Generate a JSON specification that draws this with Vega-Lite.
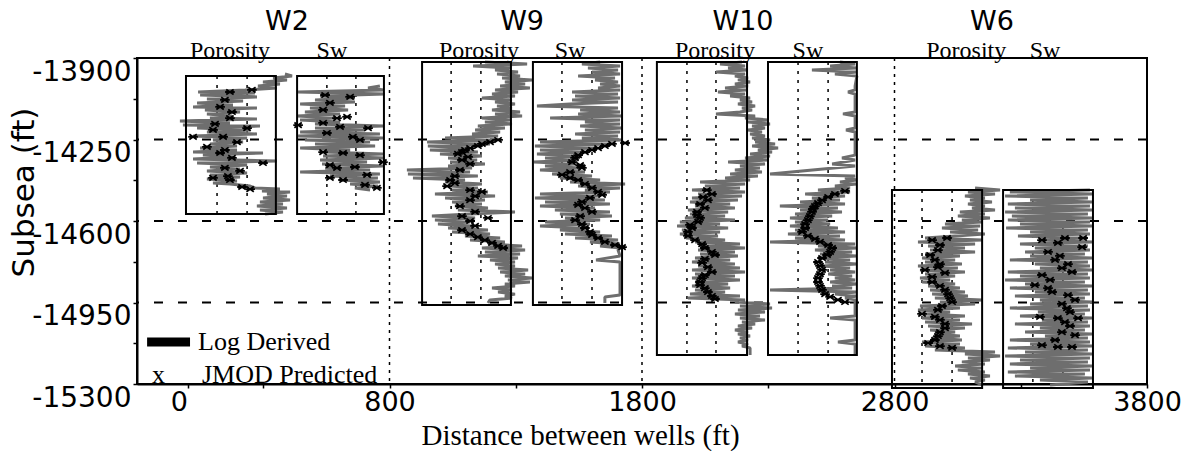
{
"$schema": "https://vega.github.io/schema/vega-lite/v6.json",
"width": 1010, "height": 326,
"autosize": {"type": "none"},
"padding": {"left": 137, "top": 58, "right": 49, "bottom": 67},
"background": "white",
"config": {
 "view": {"stroke": "black", "strokeWidth": 2},
 "axis": {"labelColor": "black", "tickColor": "black", "domainColor": "black", "titleColor": "black", "domainWidth": 2, "tickWidth": 1.5, "tickSize": 4, "grid": false, "labelFont": "DejaVu Sans", "labelFontSize": 28, "titleFontWeight": "normal"}
},
"datasets": {
 "hgrid": [{"d": -14250}, {"d": -14600}, {"d": -14950}],
 "vgrid": [{"x": 800}, {"x": 1800}, {"x": 2800}],
 "boxes": [
  {"t": "W2P", "x1": -6, "x2": 350, "top": -13977, "bot": -14570},
  {"t": "W2S", "x1": 434, "x2": 778, "top": -13977, "bot": -14570},
  {"t": "W9P", "x1": 929, "x2": 1281, "top": -13917, "bot": -14961},
  {"t": "W9S", "x1": 1368, "x2": 1721, "top": -13917, "bot": -14961},
  {"t": "W10P", "x1": 1859, "x2": 2216, "top": -13917, "bot": -15175},
  {"t": "W10S", "x1": 2299, "x2": 2651, "top": -13917, "bot": -15175},
  {"t": "W6P", "x1": 2790, "x2": 3147, "top": -14467, "bot": -15317},
  {"t": "W6S", "x1": 3230, "x2": 3586, "top": -14467, "bot": -15317}
 ],
 "inner": [
  {"x": 117, "top": -13977, "bot": -14570}, {"x": 236, "top": -13977, "bot": -14570},
  {"x": 552, "top": -13977, "bot": -14570}, {"x": 667, "top": -13977, "bot": -14570},
  {"x": 1044, "top": -13917, "bot": -14961}, {"x": 1162, "top": -13917, "bot": -14961},
  {"x": 1483, "top": -13917, "bot": -14961}, {"x": 1602, "top": -13917, "bot": -14961},
  {"x": 1978, "top": -13917, "bot": -15175}, {"x": 2093, "top": -13917, "bot": -15175},
  {"x": 2418, "top": -13917, "bot": -15175}, {"x": 2537, "top": -13917, "bot": -15175},
  {"x": 2909, "top": -14467, "bot": -15317}, {"x": 3028, "top": -14467, "bot": -15317},
  {"x": 3348, "top": -14467, "bot": -15317}, {"x": 3467, "top": -14467, "bot": -15317}
 ],
 "titles": [
  {"x": 394, "d": -13780, "txt": "W2"}, {"x": 1325, "d": -13780, "txt": "W9"},
  {"x": 2200, "d": -13780, "txt": "W10"}, {"x": 3186, "d": -13780, "txt": "W6"}
 ],
 "sublabels": [
  {"x": 168, "d": -13900, "txt": "Porosity"}, {"x": 572, "d": -13900, "txt": "Sw"},
  {"x": 1154, "d": -13900, "txt": "Porosity"}, {"x": 1515, "d": -13900, "txt": "Sw"},
  {"x": 2089, "d": -13900, "txt": "Porosity"}, {"x": 2457, "d": -13900, "txt": "Sw"},
  {"x": 3084, "d": -13900, "txt": "Porosity"}, {"x": 3396, "d": -13900, "txt": "Sw"}
 ],
 "legline": [{"x": -160, "x2": 10, "d": -15120}],
 "legtext": [
  {"x": 42, "d": -15154, "txt": "Log Derived"},
  {"x": -141, "d": -15296, "txt": "x"},
  {"x": 57, "d": -15296, "txt": "JMOD Predicted"}
 ],
 "logs": [
  {"t":"W2P","d":-13969,"x":386},{"t":"W2P","d":-13977,"x":414},{"t":"W2P","d":-13986,"x":339},{"t":"W2P","d":-13994,"x":394},{"t":"W2P","d":-14003,"x":299},{"t":"W2P","d":-14012,"x":366},{"t":"W2P","d":-14020,"x":279},{"t":"W2P","d":-14029,"x":354},{"t":"W2P","d":-14037,"x":228},{"t":"W2P","d":-14046,"x":42},{"t":"W2P","d":-14050,"x":267},{"t":"W2P","d":-14059,"x":50},{"t":"W2P","d":-14067,"x":275},{"t":"W2P","d":-14076,"x":77},{"t":"W2P","d":-14085,"x":220},{"t":"W2P","d":-14093,"x":38},{"t":"W2P","d":-14102,"x":180},{"t":"W2P","d":-14110,"x":22},{"t":"W2P","d":-14115,"x":275},{"t":"W2P","d":-14123,"x":69},{"t":"W2P","d":-14132,"x":208},{"t":"W2P","d":-14140,"x":77},{"t":"W2P","d":-14149,"x":176},{"t":"W2P","d":-14158,"x":89},{"t":"W2P","d":-14162,"x":275},{"t":"W2P","d":-14171,"x":-30},{"t":"W2P","d":-14179,"x":168},{"t":"W2P","d":-14188,"x":-18},{"t":"W2P","d":-14192,"x":287},{"t":"W2P","d":-14201,"x":38},{"t":"W2P","d":-14209,"x":248},{"t":"W2P","d":-14218,"x":77},{"t":"W2P","d":-14226,"x":275},{"t":"W2P","d":-14235,"x":22},{"t":"W2P","d":-14244,"x":236},{"t":"W2P","d":-14252,"x":101},{"t":"W2P","d":-14261,"x":220},{"t":"W2P","d":-14269,"x":89},{"t":"W2P","d":-14278,"x":196},{"t":"W2P","d":-14287,"x":50},{"t":"W2P","d":-14295,"x":196},{"t":"W2P","d":-14304,"x":22},{"t":"W2P","d":-14308,"x":299},{"t":"W2P","d":-14317,"x":61},{"t":"W2P","d":-14325,"x":180},{"t":"W2P","d":-14334,"x":22},{"t":"W2P","d":-14342,"x":354},{"t":"W2P","d":-14351,"x":38},{"t":"W2P","d":-14360,"x":236},{"t":"W2P","d":-14368,"x":89},{"t":"W2P","d":-14377,"x":208},{"t":"W2P","d":-14385,"x":77},{"t":"W2P","d":-14394,"x":236},{"t":"W2P","d":-14402,"x":89},{"t":"W2P","d":-14411,"x":208},{"t":"W2P","d":-14420,"x":77},{"t":"W2P","d":-14428,"x":196},{"t":"W2P","d":-14437,"x":101},{"t":"W2P","d":-14441,"x":168},{"t":"W2P","d":-14450,"x":248},{"t":"W2P","d":-14458,"x":267},{"t":"W2P","d":-14463,"x":366},{"t":"W2P","d":-14471,"x":295},{"t":"W2P","d":-14475,"x":406},{"t":"W2P","d":-14484,"x":315},{"t":"W2P","d":-14493,"x":394},{"t":"W2P","d":-14501,"x":299},{"t":"W2P","d":-14510,"x":406},{"t":"W2P","d":-14518,"x":287},{"t":"W2P","d":-14527,"x":378},{"t":"W2P","d":-14536,"x":275},{"t":"W2P","d":-14544,"x":394},{"t":"W2P","d":-14553,"x":287},{"t":"W2P","d":-14561,"x":378},{"t":"W2P","d":-14570,"x":307},
  {"t":"W2S","d":-14020,"x":762},{"t":"W2S","d":-14029,"x":715},{"t":"W2S","d":-14037,"x":778},{"t":"W2S","d":-14046,"x":438},{"t":"W2S","d":-14055,"x":782},{"t":"W2S","d":-14063,"x":525},{"t":"W2S","d":-14072,"x":663},{"t":"W2S","d":-14080,"x":505},{"t":"W2S","d":-14089,"x":663},{"t":"W2S","d":-14098,"x":446},{"t":"W2S","d":-14106,"x":624},{"t":"W2S","d":-14115,"x":485},{"t":"W2S","d":-14123,"x":636},{"t":"W2S","d":-14132,"x":465},{"t":"W2S","d":-14140,"x":604},{"t":"W2S","d":-14149,"x":434},{"t":"W2S","d":-14158,"x":584},{"t":"W2S","d":-14166,"x":446},{"t":"W2S","d":-14175,"x":604},{"t":"W2S","d":-14183,"x":505},{"t":"W2S","d":-14192,"x":778},{"t":"W2S","d":-14201,"x":505},{"t":"W2S","d":-14209,"x":703},{"t":"W2S","d":-14218,"x":446},{"t":"W2S","d":-14226,"x":762},{"t":"W2S","d":-14235,"x":438},{"t":"W2S","d":-14244,"x":774},{"t":"W2S","d":-14252,"x":465},{"t":"W2S","d":-14261,"x":723},{"t":"W2S","d":-14269,"x":505},{"t":"W2S","d":-14278,"x":743},{"t":"W2S","d":-14287,"x":446},{"t":"W2S","d":-14295,"x":644},{"t":"W2S","d":-14304,"x":545},{"t":"W2S","d":-14312,"x":774},{"t":"W2S","d":-14321,"x":537},{"t":"W2S","d":-14329,"x":782},{"t":"W2S","d":-14338,"x":525},{"t":"W2S","d":-14347,"x":711},{"t":"W2S","d":-14355,"x":533},{"t":"W2S","d":-14364,"x":774},{"t":"W2S","d":-14372,"x":545},{"t":"W2S","d":-14381,"x":723},{"t":"W2S","d":-14390,"x":446},{"t":"W2S","d":-14398,"x":762},{"t":"W2S","d":-14407,"x":564},{"t":"W2S","d":-14415,"x":754},{"t":"W2S","d":-14424,"x":604},{"t":"W2S","d":-14433,"x":762},{"t":"W2S","d":-14441,"x":644},{"t":"W2S","d":-14450,"x":754},{"t":"W2S","d":-14458,"x":663},{"t":"W2S","d":-14467,"x":723},
  {"t":"W9P","d":-13917,"x":1178},{"t":"W9P","d":-13926,"x":1345},{"t":"W9P","d":-13934,"x":1131},{"t":"W9P","d":-13943,"x":1281},{"t":"W9P","d":-13952,"x":1218},{"t":"W9P","d":-13960,"x":1309},{"t":"W9P","d":-13969,"x":1226},{"t":"W9P","d":-13977,"x":1317},{"t":"W9P","d":-13986,"x":1246},{"t":"W9P","d":-13994,"x":1364},{"t":"W9P","d":-14003,"x":1257},{"t":"W9P","d":-14012,"x":1337},{"t":"W9P","d":-14020,"x":1238},{"t":"W9P","d":-14029,"x":1356},{"t":"W9P","d":-14037,"x":1218},{"t":"W9P","d":-14046,"x":1309},{"t":"W9P","d":-14055,"x":1206},{"t":"W9P","d":-14063,"x":1297},{"t":"W9P","d":-14072,"x":1166},{"t":"W9P","d":-14080,"x":1285},{"t":"W9P","d":-14089,"x":1218},{"t":"W9P","d":-14098,"x":1297},{"t":"W9P","d":-14106,"x":1226},{"t":"W9P","d":-14115,"x":1285},{"t":"W9P","d":-14123,"x":1206},{"t":"W9P","d":-14132,"x":1317},{"t":"W9P","d":-14140,"x":1218},{"t":"W9P","d":-14149,"x":1325},{"t":"W9P","d":-14158,"x":1166},{"t":"W9P","d":-14166,"x":1277},{"t":"W9P","d":-14175,"x":1178},{"t":"W9P","d":-14183,"x":1285},{"t":"W9P","d":-14192,"x":1150},{"t":"W9P","d":-14201,"x":1257},{"t":"W9P","d":-14209,"x":1139},{"t":"W9P","d":-14218,"x":1238},{"t":"W9P","d":-14226,"x":1127},{"t":"W9P","d":-14235,"x":1230},{"t":"W9P","d":-14244,"x":1020},{"t":"W9P","d":-14252,"x":1218},{"t":"W9P","d":-14261,"x":949},{"t":"W9P","d":-14269,"x":1198},{"t":"W9P","d":-14278,"x":952},{"t":"W9P","d":-14287,"x":1119},{"t":"W9P","d":-14295,"x":960},{"t":"W9P","d":-14304,"x":1150},{"t":"W9P","d":-14312,"x":1000},{"t":"W9P","d":-14321,"x":1166},{"t":"W9P","d":-14329,"x":1032},{"t":"W9P","d":-14338,"x":1147},{"t":"W9P","d":-14347,"x":1040},{"t":"W9P","d":-14355,"x":1178},{"t":"W9P","d":-14364,"x":1032},{"t":"W9P","d":-14372,"x":1127},{"t":"W9P","d":-14381,"x":869},{"t":"W9P","d":-14390,"x":1119},{"t":"W9P","d":-14398,"x":873},{"t":"W9P","d":-14407,"x":1150},{"t":"W9P","d":-14415,"x":893},{"t":"W9P","d":-14424,"x":1099},{"t":"W9P","d":-14433,"x":1020},{"t":"W9P","d":-14441,"x":1166},{"t":"W9P","d":-14450,"x":1040},{"t":"W9P","d":-14458,"x":1150},{"t":"W9P","d":-14467,"x":1048},{"t":"W9P","d":-14475,"x":1190},{"t":"W9P","d":-14484,"x":980},{"t":"W9P","d":-14493,"x":1218},{"t":"W9P","d":-14501,"x":1020},{"t":"W9P","d":-14510,"x":1178},{"t":"W9P","d":-14518,"x":1048},{"t":"W9P","d":-14527,"x":1166},{"t":"W9P","d":-14536,"x":1059},{"t":"W9P","d":-14544,"x":1190},{"t":"W9P","d":-14553,"x":1071},{"t":"W9P","d":-14561,"x":1297},{"t":"W9P","d":-14570,"x":1119},{"t":"W9P","d":-14579,"x":968},{"t":"W9P","d":-14587,"x":1139},{"t":"W9P","d":-14596,"x":980},{"t":"W9P","d":-14604,"x":1119},{"t":"W9P","d":-14613,"x":992},{"t":"W9P","d":-14621,"x":1127},{"t":"W9P","d":-14630,"x":1032},{"t":"W9P","d":-14639,"x":1190},{"t":"W9P","d":-14647,"x":1048},{"t":"W9P","d":-14656,"x":1198},{"t":"W9P","d":-14664,"x":1099},{"t":"W9P","d":-14673,"x":1238},{"t":"W9P","d":-14682,"x":1119},{"t":"W9P","d":-14690,"x":1257},{"t":"W9P","d":-14699,"x":1190},{"t":"W9P","d":-14707,"x":1325},{"t":"W9P","d":-14716,"x":1166},{"t":"W9P","d":-14725,"x":1337},{"t":"W9P","d":-14733,"x":1178},{"t":"W9P","d":-14742,"x":1317},{"t":"W9P","d":-14750,"x":1150},{"t":"W9P","d":-14759,"x":1309},{"t":"W9P","d":-14767,"x":1198},{"t":"W9P","d":-14776,"x":1297},{"t":"W9P","d":-14785,"x":1218},{"t":"W9P","d":-14793,"x":1297},{"t":"W9P","d":-14802,"x":1230},{"t":"W9P","d":-14810,"x":1349},{"t":"W9P","d":-14819,"x":1238},{"t":"W9P","d":-14828,"x":1337},{"t":"W9P","d":-14836,"x":1257},{"t":"W9P","d":-14845,"x":1364},{"t":"W9P","d":-14853,"x":1269},{"t":"W9P","d":-14862,"x":1356},{"t":"W9P","d":-14871,"x":1257},{"t":"W9P","d":-14879,"x":1297},{"t":"W9P","d":-14888,"x":1206},{"t":"W9P","d":-14896,"x":1285},{"t":"W9P","d":-14905,"x":1230},{"t":"W9P","d":-14914,"x":1297},{"t":"W9P","d":-14922,"x":1257},{"t":"W9P","d":-14931,"x":1285},{"t":"W9P","d":-14939,"x":1198},{"t":"W9P","d":-14952,"x":1190},
  {"t":"W9S","d":-13917,"x":1634},{"t":"W9S","d":-13926,"x":1562},{"t":"W9S","d":-13934,"x":1713},{"t":"W9S","d":-13943,"x":1586},{"t":"W9S","d":-13952,"x":1705},{"t":"W9S","d":-13960,"x":1602},{"t":"W9S","d":-13969,"x":1713},{"t":"W9S","d":-13977,"x":1547},{"t":"W9S","d":-13986,"x":1693},{"t":"W9S","d":-13994,"x":1614},{"t":"W9S","d":-14003,"x":1705},{"t":"W9S","d":-14012,"x":1634},{"t":"W9S","d":-14020,"x":1713},{"t":"W9S","d":-14029,"x":1626},{"t":"W9S","d":-14037,"x":1713},{"t":"W9S","d":-14046,"x":1523},{"t":"W9S","d":-14055,"x":1705},{"t":"W9S","d":-14063,"x":1535},{"t":"W9S","d":-14072,"x":1713},{"t":"W9S","d":-14080,"x":1523},{"t":"W9S","d":-14089,"x":1705},{"t":"W9S","d":-14098,"x":1515},{"t":"W9S","d":-14106,"x":1384},{"t":"W9S","d":-14115,"x":1705},{"t":"W9S","d":-14123,"x":1555},{"t":"W9S","d":-14132,"x":1713},{"t":"W9S","d":-14140,"x":1547},{"t":"W9S","d":-14149,"x":1721},{"t":"W9S","d":-14158,"x":1436},{"t":"W9S","d":-14166,"x":1713},{"t":"W9S","d":-14175,"x":1574},{"t":"W9S","d":-14183,"x":1713},{"t":"W9S","d":-14192,"x":1555},{"t":"W9S","d":-14201,"x":1721},{"t":"W9S","d":-14209,"x":1574},{"t":"W9S","d":-14218,"x":1713},{"t":"W9S","d":-14226,"x":1535},{"t":"W9S","d":-14235,"x":1705},{"t":"W9S","d":-14244,"x":1562},{"t":"W9S","d":-14252,"x":1721},{"t":"W9S","d":-14261,"x":1396},{"t":"W9S","d":-14269,"x":1673},{"t":"W9S","d":-14278,"x":1376},{"t":"W9S","d":-14287,"x":1614},{"t":"W9S","d":-14295,"x":1396},{"t":"W9S","d":-14304,"x":1574},{"t":"W9S","d":-14312,"x":1384},{"t":"W9S","d":-14321,"x":1555},{"t":"W9S","d":-14329,"x":1416},{"t":"W9S","d":-14338,"x":1547},{"t":"W9S","d":-14347,"x":1372},{"t":"W9S","d":-14355,"x":1535},{"t":"W9S","d":-14364,"x":1416},{"t":"W9S","d":-14372,"x":1555},{"t":"W9S","d":-14381,"x":1396},{"t":"W9S","d":-14390,"x":1574},{"t":"W9S","d":-14398,"x":1444},{"t":"W9S","d":-14407,"x":1602},{"t":"W9S","d":-14415,"x":1475},{"t":"W9S","d":-14424,"x":1634},{"t":"W9S","d":-14433,"x":1515},{"t":"W9S","d":-14441,"x":1733},{"t":"W9S","d":-14450,"x":1547},{"t":"W9S","d":-14458,"x":1713},{"t":"W9S","d":-14467,"x":1574},{"t":"W9S","d":-14475,"x":1673},{"t":"W9S","d":-14484,"x":1396},{"t":"W9S","d":-14493,"x":1634},{"t":"W9S","d":-14501,"x":1376},{"t":"W9S","d":-14510,"x":1653},{"t":"W9S","d":-14518,"x":1416},{"t":"W9S","d":-14527,"x":1673},{"t":"W9S","d":-14536,"x":1396},{"t":"W9S","d":-14544,"x":1614},{"t":"W9S","d":-14553,"x":1455},{"t":"W9S","d":-14561,"x":1673},{"t":"W9S","d":-14570,"x":1475},{"t":"W9S","d":-14579,"x":1681},{"t":"W9S","d":-14587,"x":1495},{"t":"W9S","d":-14596,"x":1634},{"t":"W9S","d":-14604,"x":1416},{"t":"W9S","d":-14613,"x":1594},{"t":"W9S","d":-14621,"x":1396},{"t":"W9S","d":-14630,"x":1574},{"t":"W9S","d":-14639,"x":1475},{"t":"W9S","d":-14647,"x":1634},{"t":"W9S","d":-14656,"x":1495},{"t":"W9S","d":-14664,"x":1681},{"t":"W9S","d":-14673,"x":1535},{"t":"W9S","d":-14682,"x":1705},{"t":"W9S","d":-14690,"x":1594},{"t":"W9S","d":-14699,"x":1713},{"t":"W9S","d":-14707,"x":1634},{"t":"W9S","d":-14716,"x":1713},{"t":"W9S","d":-14725,"x":1705},{"t":"W9S","d":-14750,"x":1713},{"t":"W9S","d":-14767,"x":1618},{"t":"W9S","d":-14776,"x":1713},{"t":"W9S","d":-14918,"x":1713},{"t":"W9S","d":-14926,"x":1653},{"t":"W9S","d":-14952,"x":1653},
  {"t":"W10P","d":-13917,"x":2196},{"t":"W10P","d":-13926,"x":2109},{"t":"W10P","d":-13934,"x":2208},{"t":"W10P","d":-13943,"x":2141},{"t":"W10P","d":-13952,"x":2216},{"t":"W10P","d":-13960,"x":2093},{"t":"W10P","d":-13969,"x":2208},{"t":"W10P","d":-13977,"x":2168},{"t":"W10P","d":-13986,"x":2220},{"t":"W10P","d":-13994,"x":2180},{"t":"W10P","d":-14003,"x":2228},{"t":"W10P","d":-14012,"x":2168},{"t":"W10P","d":-14020,"x":2220},{"t":"W10P","d":-14029,"x":2129},{"t":"W10P","d":-14037,"x":2212},{"t":"W10P","d":-14046,"x":2101},{"t":"W10P","d":-14055,"x":2208},{"t":"W10P","d":-14063,"x":2149},{"t":"W10P","d":-14072,"x":2228},{"t":"W10P","d":-14080,"x":2188},{"t":"W10P","d":-14089,"x":2236},{"t":"W10P","d":-14098,"x":2180},{"t":"W10P","d":-14106,"x":2248},{"t":"W10P","d":-14115,"x":2196},{"t":"W10P","d":-14123,"x":2236},{"t":"W10P","d":-14132,"x":2188},{"t":"W10P","d":-14140,"x":2093},{"t":"W10P","d":-14149,"x":2248},{"t":"W10P","d":-14158,"x":2208},{"t":"W10P","d":-14166,"x":2299},{"t":"W10P","d":-14175,"x":2220},{"t":"W10P","d":-14183,"x":2307},{"t":"W10P","d":-14192,"x":2236},{"t":"W10P","d":-14201,"x":2287},{"t":"W10P","d":-14209,"x":2220},{"t":"W10P","d":-14218,"x":2275},{"t":"W10P","d":-14226,"x":2228},{"t":"W10P","d":-14235,"x":2287},{"t":"W10P","d":-14244,"x":2236},{"t":"W10P","d":-14252,"x":2307},{"t":"W10P","d":-14261,"x":2248},{"t":"W10P","d":-14269,"x":2327},{"t":"W10P","d":-14278,"x":2236},{"t":"W10P","d":-14287,"x":2339},{"t":"W10P","d":-14295,"x":2259},{"t":"W10P","d":-14304,"x":2315},{"t":"W10P","d":-14312,"x":2228},{"t":"W10P","d":-14321,"x":2307},{"t":"W10P","d":-14329,"x":2208},{"t":"W10P","d":-14338,"x":2299},{"t":"W10P","d":-14347,"x":2141},{"t":"W10P","d":-14355,"x":2287},{"t":"W10P","d":-14364,"x":2188},{"t":"W10P","d":-14372,"x":2267},{"t":"W10P","d":-14381,"x":2168},{"t":"W10P","d":-14390,"x":2275},{"t":"W10P","d":-14398,"x":2149},{"t":"W10P","d":-14407,"x":2259},{"t":"W10P","d":-14415,"x":2129},{"t":"W10P","d":-14424,"x":2228},{"t":"W10P","d":-14433,"x":2030},{"t":"W10P","d":-14441,"x":2208},{"t":"W10P","d":-14450,"x":2049},{"t":"W10P","d":-14458,"x":2188},{"t":"W10P","d":-14467,"x":1998},{"t":"W10P","d":-14475,"x":2208},{"t":"W10P","d":-14484,"x":2022},{"t":"W10P","d":-14493,"x":2196},{"t":"W10P","d":-14501,"x":1998},{"t":"W10P","d":-14510,"x":2180},{"t":"W10P","d":-14518,"x":1990},{"t":"W10P","d":-14527,"x":2149},{"t":"W10P","d":-14536,"x":2010},{"t":"W10P","d":-14544,"x":2168},{"t":"W10P","d":-14553,"x":1982},{"t":"W10P","d":-14561,"x":2141},{"t":"W10P","d":-14570,"x":1990},{"t":"W10P","d":-14579,"x":2129},{"t":"W10P","d":-14587,"x":1970},{"t":"W10P","d":-14596,"x":2168},{"t":"W10P","d":-14604,"x":1950},{"t":"W10P","d":-14613,"x":2109},{"t":"W10P","d":-14621,"x":1939},{"t":"W10P","d":-14630,"x":2141},{"t":"W10P","d":-14639,"x":1958},{"t":"W10P","d":-14647,"x":2109},{"t":"W10P","d":-14656,"x":1950},{"t":"W10P","d":-14664,"x":2101},{"t":"W10P","d":-14673,"x":1974},{"t":"W10P","d":-14682,"x":2129},{"t":"W10P","d":-14690,"x":2010},{"t":"W10P","d":-14699,"x":2188},{"t":"W10P","d":-14707,"x":2030},{"t":"W10P","d":-14716,"x":2208},{"t":"W10P","d":-14725,"x":2022},{"t":"W10P","d":-14733,"x":2168},{"t":"W10P","d":-14742,"x":2030},{"t":"W10P","d":-14750,"x":2180},{"t":"W10P","d":-14759,"x":2010},{"t":"W10P","d":-14767,"x":2149},{"t":"W10P","d":-14776,"x":1998},{"t":"W10P","d":-14785,"x":2168},{"t":"W10P","d":-14793,"x":2022},{"t":"W10P","d":-14802,"x":2188},{"t":"W10P","d":-14810,"x":1998},{"t":"W10P","d":-14819,"x":2208},{"t":"W10P","d":-14828,"x":2010},{"t":"W10P","d":-14836,"x":2168},{"t":"W10P","d":-14845,"x":1998},{"t":"W10P","d":-14853,"x":2188},{"t":"W10P","d":-14862,"x":2010},{"t":"W10P","d":-14871,"x":2141},{"t":"W10P","d":-14879,"x":1998},{"t":"W10P","d":-14888,"x":2149},{"t":"W10P","d":-14896,"x":2010},{"t":"W10P","d":-14905,"x":2129},{"t":"W10P","d":-14914,"x":1990},{"t":"W10P","d":-14922,"x":2188},{"t":"W10P","d":-14931,"x":1982},{"t":"W10P","d":-14939,"x":2208},{"t":"W10P","d":-14948,"x":2168},{"t":"W10P","d":-14956,"x":2307},{"t":"W10P","d":-14965,"x":2188},{"t":"W10P","d":-14974,"x":2315},{"t":"W10P","d":-14982,"x":2180},{"t":"W10P","d":-14991,"x":2287},{"t":"W10P","d":-14999,"x":2168},{"t":"W10P","d":-15008,"x":2267},{"t":"W10P","d":-15017,"x":2188},{"t":"W10P","d":-15025,"x":2287},{"t":"W10P","d":-15034,"x":2196},{"t":"W10P","d":-15042,"x":2248},{"t":"W10P","d":-15051,"x":2180},{"t":"W10P","d":-15060,"x":2236},{"t":"W10P","d":-15068,"x":2168},{"t":"W10P","d":-15077,"x":2220},{"t":"W10P","d":-15085,"x":2180},{"t":"W10P","d":-15094,"x":2228},{"t":"W10P","d":-15102,"x":2188},{"t":"W10P","d":-15111,"x":2220},{"t":"W10P","d":-15120,"x":2180},{"t":"W10P","d":-15128,"x":2220},{"t":"W10P","d":-15137,"x":2196},{"t":"W10P","d":-15145,"x":2228},{"t":"W10P","d":-15175,"x":2228},
  {"t":"W10S","d":-13917,"x":2584},{"t":"W10S","d":-13926,"x":2644},{"t":"W10S","d":-13934,"x":2545},{"t":"W10S","d":-13943,"x":2651},{"t":"W10S","d":-13952,"x":2473},{"t":"W10S","d":-13960,"x":2651},{"t":"W10S","d":-13969,"x":2564},{"t":"W10S","d":-13977,"x":2651},{"t":"W10S","d":-14020,"x":2644},{"t":"W10S","d":-14037,"x":2644},{"t":"W10S","d":-14046,"x":2616},{"t":"W10S","d":-14055,"x":2644},{"t":"W10S","d":-14132,"x":2644},{"t":"W10S","d":-14140,"x":2596},{"t":"W10S","d":-14149,"x":2644},{"t":"W10S","d":-14201,"x":2644},{"t":"W10S","d":-14209,"x":2608},{"t":"W10S","d":-14218,"x":2644},{"t":"W10S","d":-14317,"x":2644},{"t":"W10S","d":-14329,"x":2592},{"t":"W10S","d":-14338,"x":2644},{"t":"W10S","d":-14355,"x":2553},{"t":"W10S","d":-14364,"x":2644},{"t":"W10S","d":-14398,"x":2307},{"t":"W10S","d":-14407,"x":2644},{"t":"W10S","d":-14415,"x":2604},{"t":"W10S","d":-14424,"x":2651},{"t":"W10S","d":-14433,"x":2584},{"t":"W10S","d":-14441,"x":2651},{"t":"W10S","d":-14450,"x":2564},{"t":"W10S","d":-14458,"x":2624},{"t":"W10S","d":-14467,"x":2497},{"t":"W10S","d":-14475,"x":2624},{"t":"W10S","d":-14484,"x":2446},{"t":"W10S","d":-14493,"x":2604},{"t":"W10S","d":-14501,"x":2473},{"t":"W10S","d":-14510,"x":2584},{"t":"W10S","d":-14518,"x":2426},{"t":"W10S","d":-14527,"x":2604},{"t":"W10S","d":-14536,"x":2346},{"t":"W10S","d":-14544,"x":2576},{"t":"W10S","d":-14553,"x":2426},{"t":"W10S","d":-14561,"x":2592},{"t":"W10S","d":-14570,"x":2406},{"t":"W10S","d":-14579,"x":2553},{"t":"W10S","d":-14587,"x":2386},{"t":"W10S","d":-14596,"x":2537},{"t":"W10S","d":-14604,"x":2406},{"t":"W10S","d":-14613,"x":2545},{"t":"W10S","d":-14621,"x":2386},{"t":"W10S","d":-14630,"x":2576},{"t":"W10S","d":-14639,"x":2406},{"t":"W10S","d":-14647,"x":2604},{"t":"W10S","d":-14656,"x":2378},{"t":"W10S","d":-14664,"x":2584},{"t":"W10S","d":-14673,"x":2406},{"t":"W10S","d":-14682,"x":2604},{"t":"W10S","d":-14690,"x":2307},{"t":"W10S","d":-14699,"x":2644},{"t":"W10S","d":-14707,"x":2497},{"t":"W10S","d":-14716,"x":2651},{"t":"W10S","d":-14725,"x":2485},{"t":"W10S","d":-14733,"x":2632},{"t":"W10S","d":-14742,"x":2505},{"t":"W10S","d":-14750,"x":2651},{"t":"W10S","d":-14759,"x":2497},{"t":"W10S","d":-14767,"x":2624},{"t":"W10S","d":-14776,"x":2525},{"t":"W10S","d":-14785,"x":2651},{"t":"W10S","d":-14793,"x":2513},{"t":"W10S","d":-14802,"x":2624},{"t":"W10S","d":-14810,"x":2545},{"t":"W10S","d":-14819,"x":2644},{"t":"W10S","d":-14828,"x":2537},{"t":"W10S","d":-14836,"x":2632},{"t":"W10S","d":-14845,"x":2564},{"t":"W10S","d":-14853,"x":2644},{"t":"W10S","d":-14862,"x":2545},{"t":"W10S","d":-14871,"x":2651},{"t":"W10S","d":-14879,"x":2553},{"t":"W10S","d":-14888,"x":2632},{"t":"W10S","d":-14896,"x":2307},{"t":"W10S","d":-14905,"x":2651},{"t":"W10S","d":-14914,"x":2564},{"t":"W10S","d":-14922,"x":2651},{"t":"W10S","d":-14931,"x":2604},{"t":"W10S","d":-14939,"x":2651},{"t":"W10S","d":-14948,"x":2644},{"t":"W10S","d":-15008,"x":2644},{"t":"W10S","d":-15017,"x":2545},{"t":"W10S","d":-15025,"x":2644},{"t":"W10S","d":-15111,"x":2644},{"t":"W10S","d":-15120,"x":2576},{"t":"W10S","d":-15128,"x":2644},{"t":"W10S","d":-15175,"x":2644},
  {"t":"W6P","d":-14458,"x":3119},{"t":"W6P","d":-14467,"x":3218},{"t":"W6P","d":-14475,"x":3091},{"t":"W6P","d":-14484,"x":3198},{"t":"W6P","d":-14493,"x":3079},{"t":"W6P","d":-14501,"x":3158},{"t":"W6P","d":-14510,"x":3099},{"t":"W6P","d":-14518,"x":3186},{"t":"W6P","d":-14527,"x":3091},{"t":"W6P","d":-14536,"x":3158},{"t":"W6P","d":-14544,"x":3107},{"t":"W6P","d":-14553,"x":3198},{"t":"W6P","d":-14561,"x":3059},{"t":"W6P","d":-14570,"x":3158},{"t":"W6P","d":-14579,"x":3051},{"t":"W6P","d":-14587,"x":3178},{"t":"W6P","d":-14596,"x":3067},{"t":"W6P","d":-14604,"x":3147},{"t":"W6P","d":-14613,"x":3000},{"t":"W6P","d":-14621,"x":3139},{"t":"W6P","d":-14630,"x":2988},{"t":"W6P","d":-14639,"x":3131},{"t":"W6P","d":-14647,"x":3020},{"t":"W6P","d":-14656,"x":3158},{"t":"W6P","d":-14664,"x":3040},{"t":"W6P","d":-14673,"x":2921},{"t":"W6P","d":-14682,"x":3147},{"t":"W6P","d":-14690,"x":2893},{"t":"W6P","d":-14699,"x":3119},{"t":"W6P","d":-14707,"x":2933},{"t":"W6P","d":-14716,"x":3079},{"t":"W6P","d":-14725,"x":2941},{"t":"W6P","d":-14733,"x":3119},{"t":"W6P","d":-14742,"x":2921},{"t":"W6P","d":-14750,"x":3059},{"t":"W6P","d":-14759,"x":2909},{"t":"W6P","d":-14767,"x":3040},{"t":"W6P","d":-14776,"x":2921},{"t":"W6P","d":-14785,"x":3067},{"t":"W6P","d":-14793,"x":2893},{"t":"W6P","d":-14802,"x":3051},{"t":"W6P","d":-14810,"x":2901},{"t":"W6P","d":-14819,"x":3079},{"t":"W6P","d":-14828,"x":2921},{"t":"W6P","d":-14836,"x":3040},{"t":"W6P","d":-14845,"x":2901},{"t":"W6P","d":-14853,"x":3020},{"t":"W6P","d":-14862,"x":2909},{"t":"W6P","d":-14871,"x":3040},{"t":"W6P","d":-14879,"x":2933},{"t":"W6P","d":-14888,"x":3059},{"t":"W6P","d":-14896,"x":2941},{"t":"W6P","d":-14905,"x":3079},{"t":"W6P","d":-14914,"x":2949},{"t":"W6P","d":-14922,"x":3091},{"t":"W6P","d":-14931,"x":2960},{"t":"W6P","d":-14939,"x":3147},{"t":"W6P","d":-14948,"x":2980},{"t":"W6P","d":-14956,"x":3119},{"t":"W6P","d":-14965,"x":2901},{"t":"W6P","d":-14974,"x":3059},{"t":"W6P","d":-14982,"x":2893},{"t":"W6P","d":-14991,"x":3020},{"t":"W6P","d":-14999,"x":2921},{"t":"W6P","d":-15008,"x":3079},{"t":"W6P","d":-15017,"x":2909},{"t":"W6P","d":-15025,"x":3059},{"t":"W6P","d":-15034,"x":2921},{"t":"W6P","d":-15042,"x":3107},{"t":"W6P","d":-15051,"x":2933},{"t":"W6P","d":-15060,"x":3079},{"t":"W6P","d":-15068,"x":2941},{"t":"W6P","d":-15077,"x":3040},{"t":"W6P","d":-15085,"x":2960},{"t":"W6P","d":-15094,"x":3059},{"t":"W6P","d":-15102,"x":2949},{"t":"W6P","d":-15111,"x":3067},{"t":"W6P","d":-15120,"x":2909},{"t":"W6P","d":-15128,"x":3059},{"t":"W6P","d":-15137,"x":2921},{"t":"W6P","d":-15145,"x":3079},{"t":"W6P","d":-15154,"x":2960},{"t":"W6P","d":-15163,"x":3198},{"t":"W6P","d":-15171,"x":3079},{"t":"W6P","d":-15180,"x":3218},{"t":"W6P","d":-15188,"x":3091},{"t":"W6P","d":-15197,"x":3178},{"t":"W6P","d":-15205,"x":3067},{"t":"W6P","d":-15214,"x":3158},{"t":"W6P","d":-15223,"x":3040},{"t":"W6P","d":-15231,"x":3147},{"t":"W6P","d":-15240,"x":3051},{"t":"W6P","d":-15248,"x":3158},{"t":"W6P","d":-15257,"x":3091},{"t":"W6P","d":-15266,"x":3178},{"t":"W6P","d":-15274,"x":3099},{"t":"W6P","d":-15283,"x":3158},{"t":"W6P","d":-15291,"x":3119},{"t":"W6P","d":-15304,"x":3147},
  {"t":"W6S","d":-14467,"x":3574},{"t":"W6S","d":-14475,"x":3257},{"t":"W6S","d":-14484,"x":3582},{"t":"W6S","d":-14493,"x":3238},{"t":"W6S","d":-14501,"x":3566},{"t":"W6S","d":-14510,"x":3337},{"t":"W6S","d":-14518,"x":3582},{"t":"W6S","d":-14527,"x":3249},{"t":"W6S","d":-14536,"x":3574},{"t":"W6S","d":-14544,"x":3277},{"t":"W6S","d":-14553,"x":3582},{"t":"W6S","d":-14561,"x":3238},{"t":"W6S","d":-14570,"x":3566},{"t":"W6S","d":-14579,"x":3265},{"t":"W6S","d":-14587,"x":3582},{"t":"W6S","d":-14596,"x":3249},{"t":"W6S","d":-14604,"x":3574},{"t":"W6S","d":-14613,"x":3297},{"t":"W6S","d":-14621,"x":3582},{"t":"W6S","d":-14630,"x":3242},{"t":"W6S","d":-14639,"x":3566},{"t":"W6S","d":-14647,"x":3337},{"t":"W6S","d":-14656,"x":3574},{"t":"W6S","d":-14664,"x":3289},{"t":"W6S","d":-14673,"x":3554},{"t":"W6S","d":-14682,"x":3376},{"t":"W6S","d":-14690,"x":3582},{"t":"W6S","d":-14699,"x":3297},{"t":"W6S","d":-14707,"x":3566},{"t":"W6S","d":-14716,"x":3356},{"t":"W6S","d":-14725,"x":3574},{"t":"W6S","d":-14733,"x":3317},{"t":"W6S","d":-14742,"x":3554},{"t":"W6S","d":-14750,"x":3337},{"t":"W6S","d":-14759,"x":3582},{"t":"W6S","d":-14767,"x":3257},{"t":"W6S","d":-14776,"x":3566},{"t":"W6S","d":-14785,"x":3356},{"t":"W6S","d":-14793,"x":3574},{"t":"W6S","d":-14802,"x":3376},{"t":"W6S","d":-14810,"x":3582},{"t":"W6S","d":-14819,"x":3249},{"t":"W6S","d":-14828,"x":3566},{"t":"W6S","d":-14836,"x":3297},{"t":"W6S","d":-14845,"x":3574},{"t":"W6S","d":-14853,"x":3238},{"t":"W6S","d":-14862,"x":3554},{"t":"W6S","d":-14871,"x":3317},{"t":"W6S","d":-14879,"x":3582},{"t":"W6S","d":-14888,"x":3257},{"t":"W6S","d":-14896,"x":3566},{"t":"W6S","d":-14905,"x":3356},{"t":"W6S","d":-14914,"x":3574},{"t":"W6S","d":-14922,"x":3277},{"t":"W6S","d":-14931,"x":3554},{"t":"W6S","d":-14939,"x":3376},{"t":"W6S","d":-14948,"x":3582},{"t":"W6S","d":-14956,"x":3337},{"t":"W6S","d":-14965,"x":3566},{"t":"W6S","d":-14974,"x":3257},{"t":"W6S","d":-14982,"x":3574},{"t":"W6S","d":-14991,"x":3368},{"t":"W6S","d":-14999,"x":3554},{"t":"W6S","d":-15008,"x":3297},{"t":"W6S","d":-15017,"x":3582},{"t":"W6S","d":-15025,"x":3384},{"t":"W6S","d":-15034,"x":3566},{"t":"W6S","d":-15042,"x":3277},{"t":"W6S","d":-15051,"x":3574},{"t":"W6S","d":-15060,"x":3376},{"t":"W6S","d":-15068,"x":3554},{"t":"W6S","d":-15077,"x":3317},{"t":"W6S","d":-15085,"x":3582},{"t":"W6S","d":-15094,"x":3396},{"t":"W6S","d":-15102,"x":3566},{"t":"W6S","d":-15111,"x":3257},{"t":"W6S","d":-15120,"x":3574},{"t":"W6S","d":-15128,"x":3337},{"t":"W6S","d":-15137,"x":3582},{"t":"W6S","d":-15145,"x":3249},{"t":"W6S","d":-15154,"x":3566},{"t":"W6S","d":-15163,"x":3317},{"t":"W6S","d":-15171,"x":3582},{"t":"W6S","d":-15180,"x":3238},{"t":"W6S","d":-15188,"x":3574},{"t":"W6S","d":-15197,"x":3297},{"t":"W6S","d":-15205,"x":3566},{"t":"W6S","d":-15214,"x":3257},{"t":"W6S","d":-15223,"x":3582},{"t":"W6S","d":-15231,"x":3337},{"t":"W6S","d":-15240,"x":3574},{"t":"W6S","d":-15248,"x":3249},{"t":"W6S","d":-15257,"x":3554},{"t":"W6S","d":-15266,"x":3277},{"t":"W6S","d":-15274,"x":3582},{"t":"W6S","d":-15283,"x":3376},{"t":"W6S","d":-15291,"x":3566},{"t":"W6S","d":-15304,"x":3416}
 ],
 "jmod": [
  {"t":"W2P","d":-14037,"x":255},{"t":"W2P","d":-14046,"x":168},{"t":"W2P","d":-14080,"x":148},{"t":"W2P","d":-14110,"x":129},{"t":"W2P","d":-14132,"x":176},{"t":"W2P","d":-14158,"x":168},{"t":"W2P","d":-14183,"x":109},{"t":"W2P","d":-14201,"x":236},{"t":"W2P","d":-14209,"x":101},{"t":"W2P","d":-14239,"x":22},{"t":"W2P","d":-14239,"x":141},{"t":"W2P","d":-14261,"x":196},{"t":"W2P","d":-14282,"x":77},{"t":"W2P","d":-14295,"x":148},{"t":"W2P","d":-14308,"x":129},{"t":"W2P","d":-14329,"x":176},{"t":"W2P","d":-14351,"x":299},{"t":"W2P","d":-14372,"x":148},{"t":"W2P","d":-14385,"x":208},{"t":"W2P","d":-14407,"x":160},{"t":"W2P","d":-14415,"x":101},{"t":"W2P","d":-14424,"x":168},{"t":"W2P","d":-14454,"x":216},{"t":"W2P","d":-14463,"x":248},
  {"t":"W2S","d":-14059,"x":545},{"t":"W2S","d":-14067,"x":644},{"t":"W2S","d":-14093,"x":564},{"t":"W2S","d":-14123,"x":537},{"t":"W2S","d":-14153,"x":632},{"t":"W2S","d":-14158,"x":592},{"t":"W2S","d":-14188,"x":438},{"t":"W2S","d":-14179,"x":537},{"t":"W2S","d":-14196,"x":604},{"t":"W2S","d":-14201,"x":715},{"t":"W2S","d":-14222,"x":552},{"t":"W2S","d":-14239,"x":655},{"t":"W2S","d":-14252,"x":683},{"t":"W2S","d":-14304,"x":537},{"t":"W2S","d":-14308,"x":616},{"t":"W2S","d":-14317,"x":683},{"t":"W2S","d":-14347,"x":774},{"t":"W2S","d":-14360,"x":564},{"t":"W2S","d":-14372,"x":592},{"t":"W2S","d":-14368,"x":663},{"t":"W2S","d":-14402,"x":711},{"t":"W2S","d":-14415,"x":564},{"t":"W2S","d":-14424,"x":616},{"t":"W2S","d":-14445,"x":703},{"t":"W2S","d":-14458,"x":750},
  {"t":"W9P","d":-14252,"x":1230},{"t":"W9P","d":-14261,"x":1198},{"t":"W9P","d":-14269,"x":1166},{"t":"W9P","d":-14278,"x":1150},{"t":"W9P","d":-14287,"x":1119},{"t":"W9P","d":-14295,"x":1099},{"t":"W9P","d":-14304,"x":1087},{"t":"W9P","d":-14312,"x":1071},{"t":"W9P","d":-14325,"x":1111},{"t":"W9P","d":-14338,"x":1087},{"t":"W9P","d":-14355,"x":1119},{"t":"W9P","d":-14381,"x":1079},{"t":"W9P","d":-14407,"x":1059},{"t":"W9P","d":-14424,"x":1040},{"t":"W9P","d":-14437,"x":1059},{"t":"W9P","d":-14450,"x":1028},{"t":"W9P","d":-14467,"x":1119},{"t":"W9P","d":-14475,"x":1166},{"t":"W9P","d":-14493,"x":1139},{"t":"W9P","d":-14510,"x":1119},{"t":"W9P","d":-14536,"x":1079},{"t":"W9P","d":-14561,"x":1139},{"t":"W9P","d":-14579,"x":1087},{"t":"W9P","d":-14587,"x":1190},{"t":"W9P","d":-14600,"x":1119},{"t":"W9P","d":-14621,"x":1139},{"t":"W9P","d":-14639,"x":1087},{"t":"W9P","d":-14656,"x":1119},{"t":"W9P","d":-14669,"x":1150},{"t":"W9P","d":-14682,"x":1178},{"t":"W9P","d":-14694,"x":1206},{"t":"W9P","d":-14707,"x":1230},{"t":"W9P","d":-14716,"x":1250},
  {"t":"W9S","d":-14265,"x":1733},{"t":"W9S","d":-14269,"x":1681},{"t":"W9S","d":-14278,"x":1653},{"t":"W9S","d":-14287,"x":1626},{"t":"W9S","d":-14295,"x":1602},{"t":"W9S","d":-14304,"x":1574},{"t":"W9S","d":-14317,"x":1547},{"t":"W9S","d":-14329,"x":1535},{"t":"W9S","d":-14347,"x":1523},{"t":"W9S","d":-14360,"x":1555},{"t":"W9S","d":-14372,"x":1562},{"t":"W9S","d":-14390,"x":1515},{"t":"W9S","d":-14402,"x":1483},{"t":"W9S","d":-14415,"x":1515},{"t":"W9S","d":-14424,"x":1547},{"t":"W9S","d":-14441,"x":1574},{"t":"W9S","d":-14458,"x":1602},{"t":"W9S","d":-14475,"x":1626},{"t":"W9S","d":-14488,"x":1642},{"t":"W9S","d":-14501,"x":1594},{"t":"W9S","d":-14518,"x":1562},{"t":"W9S","d":-14531,"x":1547},{"t":"W9S","d":-14544,"x":1574},{"t":"W9S","d":-14561,"x":1602},{"t":"W9S","d":-14579,"x":1555},{"t":"W9S","d":-14596,"x":1535},{"t":"W9S","d":-14613,"x":1562},{"t":"W9S","d":-14630,"x":1574},{"t":"W9S","d":-14647,"x":1594},{"t":"W9S","d":-14660,"x":1602},{"t":"W9S","d":-14673,"x":1626},{"t":"W9S","d":-14690,"x":1653},{"t":"W9S","d":-14703,"x":1693},{"t":"W9S","d":-14712,"x":1721},
  {"t":"W10P","d":-14467,"x":2057},{"t":"W10P","d":-14484,"x":2077},{"t":"W10P","d":-14497,"x":2042},{"t":"W10P","d":-14510,"x":2061},{"t":"W10P","d":-14527,"x":2030},{"t":"W10P","d":-14544,"x":2049},{"t":"W10P","d":-14561,"x":2018},{"t":"W10P","d":-14574,"x":2018},{"t":"W10P","d":-14587,"x":2030},{"t":"W10P","d":-14604,"x":2022},{"t":"W10P","d":-14617,"x":1990},{"t":"W10P","d":-14630,"x":1998},{"t":"W10P","d":-14647,"x":1982},{"t":"W10P","d":-14664,"x":1982},{"t":"W10P","d":-14682,"x":2010},{"t":"W10P","d":-14699,"x":2038},{"t":"W10P","d":-14716,"x":2049},{"t":"W10P","d":-14733,"x":2077},{"t":"W10P","d":-14746,"x":2089},{"t":"W10P","d":-14763,"x":2049},{"t":"W10P","d":-14780,"x":2038},{"t":"W10P","d":-14798,"x":2061},{"t":"W10P","d":-14819,"x":2077},{"t":"W10P","d":-14832,"x":2049},{"t":"W10P","d":-14845,"x":2038},{"t":"W10P","d":-14862,"x":2030},{"t":"W10P","d":-14875,"x":2030},{"t":"W10P","d":-14888,"x":2049},{"t":"W10P","d":-14905,"x":2061},{"t":"W10P","d":-14922,"x":2077},{"t":"W10P","d":-14935,"x":2089},
  {"t":"W10S","d":-14471,"x":2604},{"t":"W10S","d":-14484,"x":2564},{"t":"W10S","d":-14497,"x":2537},{"t":"W10S","d":-14510,"x":2513},{"t":"W10S","d":-14523,"x":2497},{"t":"W10S","d":-14536,"x":2485},{"t":"W10S","d":-14548,"x":2477},{"t":"W10S","d":-14561,"x":2473},{"t":"W10S","d":-14579,"x":2465},{"t":"W10S","d":-14596,"x":2457},{"t":"W10S","d":-14613,"x":2446},{"t":"W10S","d":-14630,"x":2446},{"t":"W10S","d":-14647,"x":2434},{"t":"W10S","d":-14664,"x":2457},{"t":"W10S","d":-14677,"x":2485},{"t":"W10S","d":-14690,"x":2505},{"t":"W10S","d":-14703,"x":2537},{"t":"W10S","d":-14716,"x":2553},{"t":"W10S","d":-14733,"x":2545},{"t":"W10S","d":-14746,"x":2533},{"t":"W10S","d":-14759,"x":2513},{"t":"W10S","d":-14776,"x":2497},{"t":"W10S","d":-14793,"x":2505},{"t":"W10S","d":-14810,"x":2513},{"t":"W10S","d":-14828,"x":2505},{"t":"W10S","d":-14845,"x":2497},{"t":"W10S","d":-14862,"x":2497},{"t":"W10S","d":-14879,"x":2505},{"t":"W10S","d":-14896,"x":2513},{"t":"W10S","d":-14914,"x":2525},{"t":"W10S","d":-14926,"x":2545},{"t":"W10S","d":-14939,"x":2576},{"t":"W10S","d":-14948,"x":2604},
  {"t":"W6P","d":-14673,"x":3008},{"t":"W6P","d":-14682,"x":2949},{"t":"W6P","d":-14703,"x":2980},{"t":"W6P","d":-14725,"x":2972},{"t":"W6P","d":-14746,"x":2941},{"t":"W6P","d":-14767,"x":2960},{"t":"W6P","d":-14785,"x":2980},{"t":"W6P","d":-14798,"x":2972},{"t":"W6P","d":-14810,"x":2921},{"t":"W6P","d":-14823,"x":3000},{"t":"W6P","d":-14840,"x":2949},{"t":"W6P","d":-14862,"x":2949},{"t":"W6P","d":-14879,"x":2980},{"t":"W6P","d":-14896,"x":3000},{"t":"W6P","d":-14914,"x":3012},{"t":"W6P","d":-14931,"x":3020},{"t":"W6P","d":-14948,"x":3028},{"t":"W6P","d":-14965,"x":2988},{"t":"W6P","d":-14982,"x":2972},{"t":"W6P","d":-14999,"x":2909},{"t":"W6P","d":-15012,"x":2960},{"t":"W6P","d":-15025,"x":2980},{"t":"W6P","d":-15042,"x":3000},{"t":"W6P","d":-15060,"x":3000},{"t":"W6P","d":-15077,"x":2980},{"t":"W6P","d":-15094,"x":2972},{"t":"W6P","d":-15111,"x":2960},{"t":"W6P","d":-15124,"x":2933},{"t":"W6P","d":-15137,"x":2980},{"t":"W6P","d":-15145,"x":3028},
  {"t":"W6S","d":-14673,"x":3475},{"t":"W6S","d":-14673,"x":3547},{"t":"W6S","d":-14682,"x":3384},{"t":"W6S","d":-14694,"x":3447},{"t":"W6S","d":-14712,"x":3543},{"t":"W6S","d":-14733,"x":3408},{"t":"W6S","d":-14750,"x":3455},{"t":"W6S","d":-14767,"x":3436},{"t":"W6S","d":-14785,"x":3487},{"t":"W6S","d":-14802,"x":3463},{"t":"W6S","d":-14819,"x":3503},{"t":"W6S","d":-14832,"x":3384},{"t":"W6S","d":-14853,"x":3416},{"t":"W6S","d":-14875,"x":3356},{"t":"W6S","d":-14888,"x":3408},{"t":"W6S","d":-14905,"x":3424},{"t":"W6S","d":-14918,"x":3487},{"t":"W6S","d":-14939,"x":3515},{"t":"W6S","d":-14956,"x":3463},{"t":"W6S","d":-14974,"x":3483},{"t":"W6S","d":-14991,"x":3495},{"t":"W6S","d":-15012,"x":3376},{"t":"W6S","d":-15017,"x":3447},{"t":"W6S","d":-15017,"x":3527},{"t":"W6S","d":-15034,"x":3475},{"t":"W6S","d":-15051,"x":3495},{"t":"W6S","d":-15077,"x":3463},{"t":"W6S","d":-15090,"x":3515},{"t":"W6S","d":-15111,"x":3436},{"t":"W6S","d":-15133,"x":3384},{"t":"W6S","d":-15141,"x":3447},{"t":"W6S","d":-15141,"x":3503}
 ]
},
"layer": [
 {
  "data": {"name": "hgrid"},
  "mark": {"type": "rule", "strokeDash": [9, 15], "strokeWidth": 2, "color": "black"},
  "encoding": {
   "y": {"field": "d", "type": "quantitative",
    "scale": {"domain": [-15300, -13900], "nice": false, "zero": false},
    "axis": {"title": "Subsea (ft)", "titleFont": "DejaVu Sans", "titleFontSize": 31, "titleAngle": 270, "titleX": -113, "titleY": 134, "titleAlign": "center", "titleBaseline": "middle",
     "values": [-15300, -15125, -14950, -14775, -14600, -14425, -14250, -14075, -13900],
     "labelExpr": "indexof([-13900, -14250, -14600, -14950, -15300], datum.value) >= 0 ? '-' + abs(datum.value) : ''",
     "labelOffset": 14, "labelPadding": 2, "labelOverlap": false}}
  }
 },
 {
  "data": {"name": "vgrid"},
  "mark": {"type": "rule", "strokeDash": [3, 5], "strokeWidth": 1.5, "color": "black"},
  "encoding": {
   "x": {"field": "x", "type": "quantitative",
    "scale": {"domain": [-200, 3800], "nice": false, "zero": false},
    "axis": {"title": "Distance between wells (ft)", "titleFont": "Liberation Serif", "titleFontSize": 29, "titleX": 443, "titleY": 60, "titleAlign": "center", "titleBaseline": "alphabetic",
     "values": [0, 300, 800, 1300, 1800, 2300, 2800, 3300, 3800],
     "labelExpr": "indexof([0, 800, 1800, 2800, 3800], datum.value) >= 0 ? '' + datum.value : ''",
     "labelFlush": false, "labelOverlap": false, "labelPadding": 1, "labelFontSize": 27,
     "labelAlign": {"condition": {"test": "datum.value == 0", "value": "right"}, "value": "center"}}}
  }
 },
 {
  "data": {"name": "inner"},
  "mark": {"type": "rule", "strokeDash": [3, 6], "strokeWidth": 1.5, "color": "black"},
  "encoding": {
   "x": {"field": "x", "type": "quantitative", "scale": {"domain": [-200, 3800], "nice": false, "zero": false}},
   "y": {"field": "top", "type": "quantitative", "scale": {"domain": [-15300, -13900], "nice": false, "zero": false}},
   "y2": {"field": "bot"}
  }
 },
 {
  "data": {"name": "logs"},
  "mark": {"type": "line", "color": "#6e6e6e", "strokeWidth": 3, "strokeJoin": "bevel"},
  "encoding": {
   "x": {"field": "x", "type": "quantitative", "scale": {"domain": [-200, 3800], "nice": false, "zero": false}},
   "y": {"field": "d", "type": "quantitative", "scale": {"domain": [-15300, -13900], "nice": false, "zero": false}},
   "detail": {"field": "t"},
   "order": {"field": "d"}
  }
 },
 {
  "data": {"name": "boxes"},
  "mark": {"type": "rect", "filled": false, "stroke": "black", "strokeWidth": 2},
  "encoding": {
   "x": {"field": "x1", "type": "quantitative", "scale": {"domain": [-200, 3800], "nice": false, "zero": false}},
   "x2": {"field": "x2"},
   "y": {"field": "top", "type": "quantitative", "scale": {"domain": [-15300, -13900], "nice": false, "zero": false}},
   "y2": {"field": "bot"}
  }
 },
 {
  "data": {"name": "jmod"},
  "mark": {"type": "point", "shape": "M-1,-0.7L1,0.7M-1,0.7L1,-0.7M-1.3,0L1.3,0", "size": 55, "filled": false, "color": "black", "strokeWidth": 1.8, "opacity": 1},
  "encoding": {
   "x": {"field": "x", "type": "quantitative", "scale": {"domain": [-200, 3800], "nice": false, "zero": false}},
   "y": {"field": "d", "type": "quantitative", "scale": {"domain": [-15300, -13900], "nice": false, "zero": false}}
  }
 },
 {
  "data": {"name": "titles"},
  "mark": {"type": "text", "font": "DejaVu Sans", "fontSize": 27, "color": "black", "align": "center", "baseline": "alphabetic"},
  "encoding": {
   "x": {"field": "x", "type": "quantitative", "scale": {"domain": [-200, 3800], "nice": false, "zero": false}},
   "y": {"field": "d", "type": "quantitative", "scale": {"domain": [-15300, -13900], "nice": false, "zero": false}},
   "text": {"field": "txt"}
  }
 },
 {
  "data": {"name": "sublabels"},
  "mark": {"type": "text", "font": "Liberation Serif", "fontSize": 24, "color": "black", "align": "center", "baseline": "alphabetic"},
  "encoding": {
   "x": {"field": "x", "type": "quantitative", "scale": {"domain": [-200, 3800], "nice": false, "zero": false}},
   "y": {"field": "d", "type": "quantitative", "scale": {"domain": [-15300, -13900], "nice": false, "zero": false}},
   "text": {"field": "txt"}
  }
 },
 {
  "data": {"name": "legline"},
  "mark": {"type": "rule", "strokeWidth": 9, "color": "black"},
  "encoding": {
   "x": {"field": "x", "type": "quantitative", "scale": {"domain": [-200, 3800], "nice": false, "zero": false}},
   "x2": {"field": "x2"},
   "y": {"field": "d", "type": "quantitative", "scale": {"domain": [-15300, -13900], "nice": false, "zero": false}}
  }
 },
 {
  "data": {"name": "legtext"},
  "mark": {"type": "text", "font": "Liberation Serif", "fontSize": 26, "color": "black", "align": "left", "baseline": "alphabetic"},
  "encoding": {
   "x": {"field": "x", "type": "quantitative", "scale": {"domain": [-200, 3800], "nice": false, "zero": false}},
   "y": {"field": "d", "type": "quantitative", "scale": {"domain": [-15300, -13900], "nice": false, "zero": false}},
   "text": {"field": "txt"}
  }
 }
]
}
